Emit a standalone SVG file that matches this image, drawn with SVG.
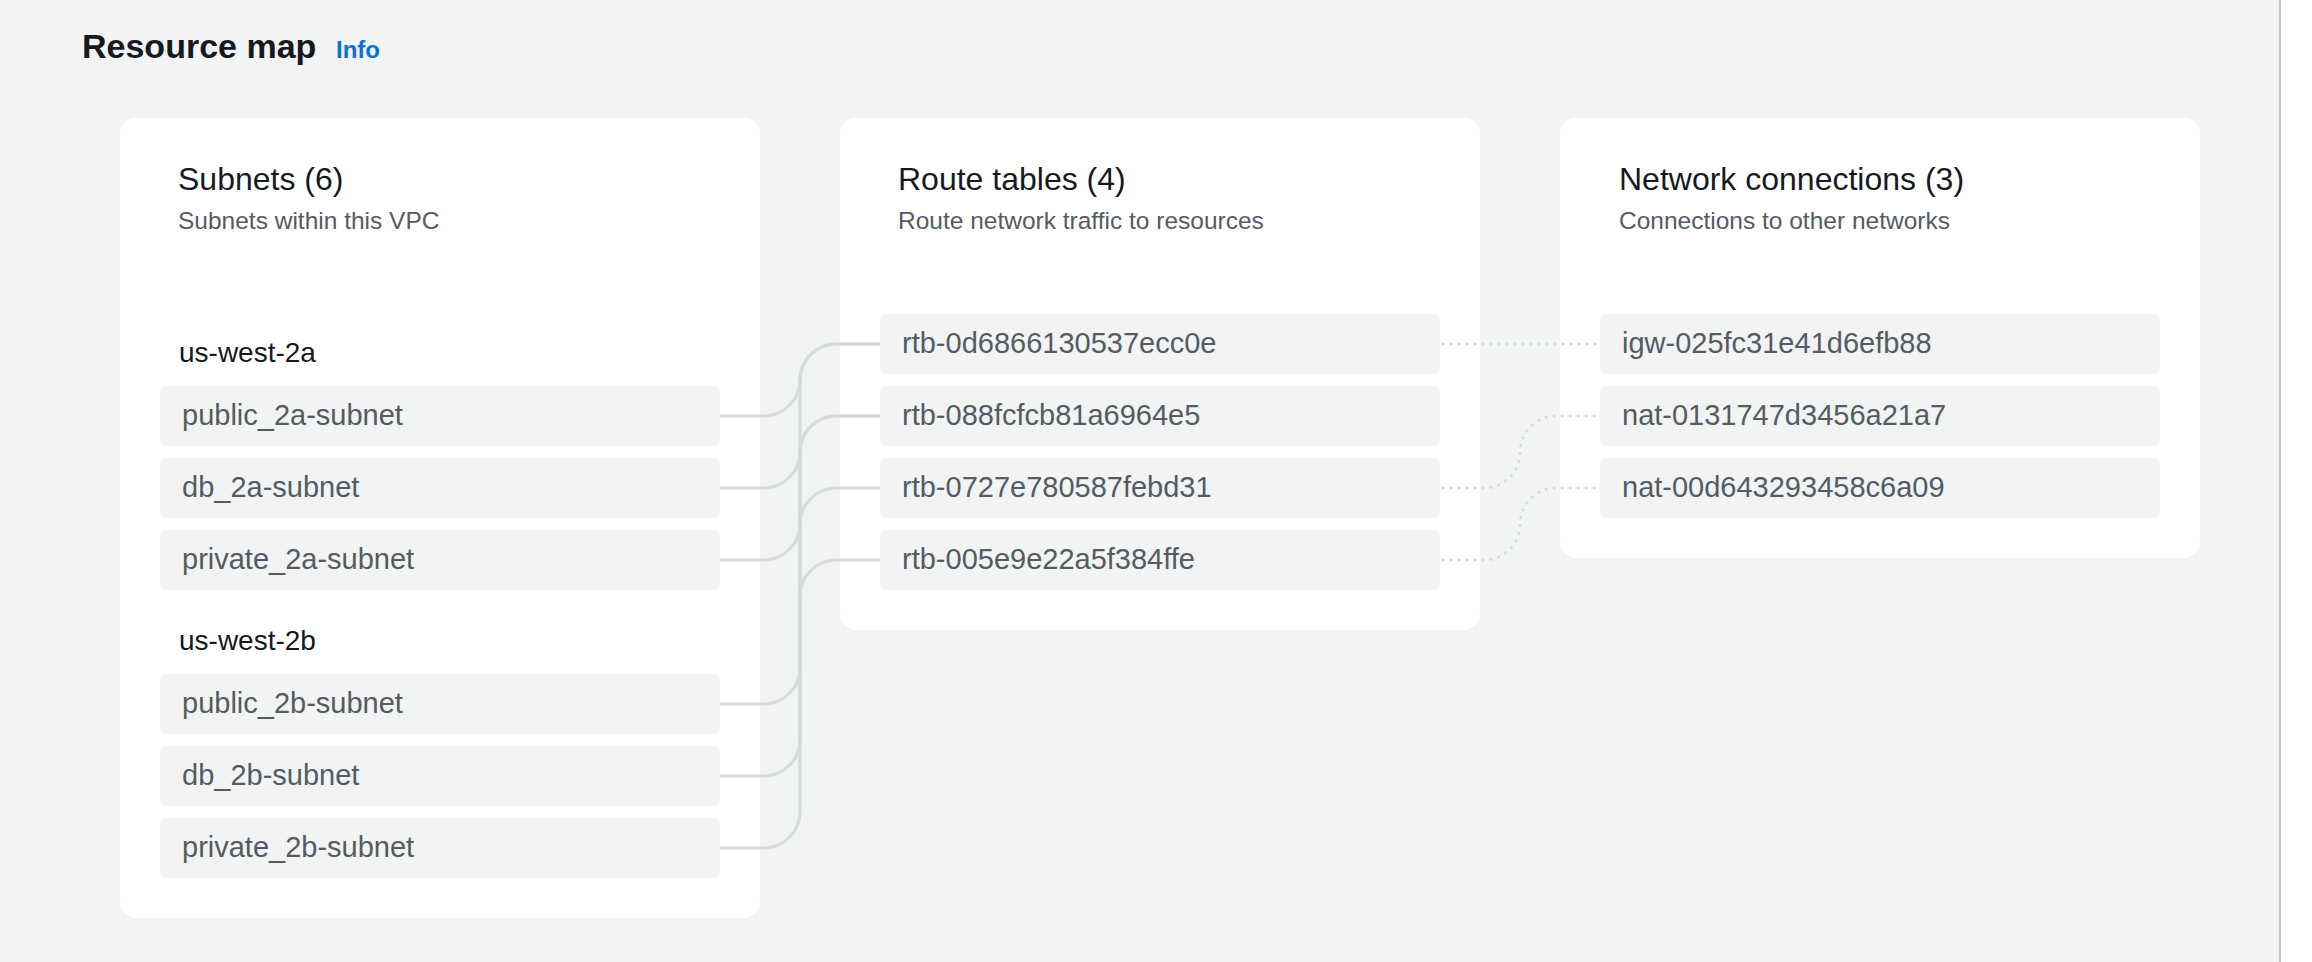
<svg xmlns="http://www.w3.org/2000/svg" width="2312" height="962" viewBox="0 0 2312 962">
  <style>
    .panel { fill: #ffffff; }
    .item { fill: #f2f3f3; }
    .title { font-family: "Liberation Sans", Arial, sans-serif; font-size: 34px; font-weight: bold; fill: #16191f; }
    .info { font-family: "Liberation Sans", Arial, sans-serif; font-size: 24px; font-weight: bold; fill: #0972d3; }
    .heading { font-family: "Liberation Sans", Arial, sans-serif; font-size: 32px; fill: #16191f; }
    .sub { font-family: "Liberation Sans", Arial, sans-serif; font-size: 24.5px; fill: #545b64; }
    .zone { font-family: "Liberation Sans", Arial, sans-serif; font-size: 28px; fill: #16191f; }
    .label { font-family: "Liberation Sans", Arial, sans-serif; font-size: 29px; fill: #545b64; }
    .solid { fill: none; stroke: #d5dbdb; stroke-width: 3.2; }
    .dotted { fill: none; stroke: #d5dbdb; stroke-width: 3.2; stroke-linecap: round; stroke-dasharray: 0 8; }
  </style>
  <rect x="0" y="0" width="2312" height="962" fill="#f2f3f3"/>
  <rect x="2281" y="0" width="31" height="962" fill="#ffffff"/>
  <rect x="2279" y="0" width="2" height="962" fill="#c3c7c9"/>

  <g id="header">
    <text class="title" x="82" y="58">Resource map</text>
    <text class="info" x="336" y="58">Info</text>
  </g>

  <g id="subnets-panel">
    <rect class="panel" x="120" y="118" width="640" height="800" rx="16"/>
    <text class="heading" x="178" y="190">Subnets (6)</text>
    <text class="sub" x="178" y="229">Subnets within this VPC</text>
    <text class="zone" x="179" y="362">us-west-2a</text>
    <text class="zone" x="179" y="650">us-west-2b</text>
  </g>
  <g id="public_2a-subnet"><rect class="item" x="160" y="386" width="560" height="60" rx="6"/><text class="label" x="182" y="425">public_2a-subnet</text></g>
  <g id="db_2a-subnet"><rect class="item" x="160" y="458" width="560" height="60" rx="6"/><text class="label" x="182" y="497">db_2a-subnet</text></g>
  <g id="private_2a-subnet"><rect class="item" x="160" y="530" width="560" height="60" rx="6"/><text class="label" x="182" y="569">private_2a-subnet</text></g>
  <g id="public_2b-subnet"><rect class="item" x="160" y="674" width="560" height="60" rx="6"/><text class="label" x="182" y="713">public_2b-subnet</text></g>
  <g id="db_2b-subnet"><rect class="item" x="160" y="746" width="560" height="60" rx="6"/><text class="label" x="182" y="785">db_2b-subnet</text></g>
  <g id="private_2b-subnet"><rect class="item" x="160" y="818" width="560" height="60" rx="6"/><text class="label" x="182" y="857">private_2b-subnet</text></g>

  <g id="route-tables-panel">
    <rect class="panel" x="840" y="118" width="640" height="512" rx="16"/>
    <text class="heading" x="898" y="190">Route tables (4)</text>
    <text class="sub" x="898" y="229">Route network traffic to resources</text>
  </g>
  <g id="rtb-0d6866130537ecc0e"><rect class="item" x="880" y="314" width="560" height="60" rx="6"/><text class="label" x="902" y="353">rtb-0d6866130537ecc0e</text></g>
  <g id="rtb-088fcfcb81a6964e5"><rect class="item" x="880" y="386" width="560" height="60" rx="6"/><text class="label" x="902" y="425">rtb-088fcfcb81a6964e5</text></g>
  <g id="rtb-0727e780587febd31"><rect class="item" x="880" y="458" width="560" height="60" rx="6"/><text class="label" x="902" y="497">rtb-0727e780587febd31</text></g>
  <g id="rtb-005e9e22a5f384ffe"><rect class="item" x="880" y="530" width="560" height="60" rx="6"/><text class="label" x="902" y="569">rtb-005e9e22a5f384ffe</text></g>

  <g id="network-connections-panel">
    <rect class="panel" x="1560" y="118" width="640" height="440" rx="16"/>
    <text class="heading" x="1619" y="190">Network connections (3)</text>
    <text class="sub" x="1619" y="229">Connections to other networks</text>
  </g>
  <g id="igw-025fc31e41d6efb88"><rect class="item" x="1600" y="314" width="560" height="60" rx="6"/><text class="label" x="1622" y="353">igw-025fc31e41d6efb88</text></g>
  <g id="nat-0131747d3456a21a7"><rect class="item" x="1600" y="386" width="560" height="60" rx="6"/><text class="label" x="1622" y="425">nat-0131747d3456a21a7</text></g>
  <g id="nat-00d643293458c6a09"><rect class="item" x="1600" y="458" width="560" height="60" rx="6"/><text class="label" x="1622" y="497">nat-00d643293458c6a09</text></g>

  <g id="connectors">
    <path class="solid" d="M720 416 H764 A36 36 0 0 0 800 380 A36 36 0 0 1 836 344 H880"/>
    <path class="solid" d="M720 488 H764 A36 36 0 0 0 800 452 A36 36 0 0 1 836 416 H880"/>
    <path class="solid" d="M720 560 H764 A36 36 0 0 0 800 524 A36 36 0 0 1 836 488 H880"/>
    <path class="solid" d="M720 704 H764 A36 36 0 0 0 800 668 V380 A36 36 0 0 1 836 344 H880"/>
    <path class="solid" d="M720 776 H764 A36 36 0 0 0 800 740 V452 A36 36 0 0 1 836 416 H880"/>
    <path class="solid" d="M720 848 H764 A36 36 0 0 0 800 812 V596 A36 36 0 0 1 836 560 H880"/>
    <path class="dotted" d="M1443 344 H1597"/>
    <path class="dotted" d="M1443 488 H1484 A36 36 0 0 0 1520 452 A36 36 0 0 1 1556 416 H1597"/>
    <path class="dotted" d="M1443 560 H1484 A36 36 0 0 0 1520 524 A36 36 0 0 1 1556 488 H1597"/>
  </g>
</svg>
